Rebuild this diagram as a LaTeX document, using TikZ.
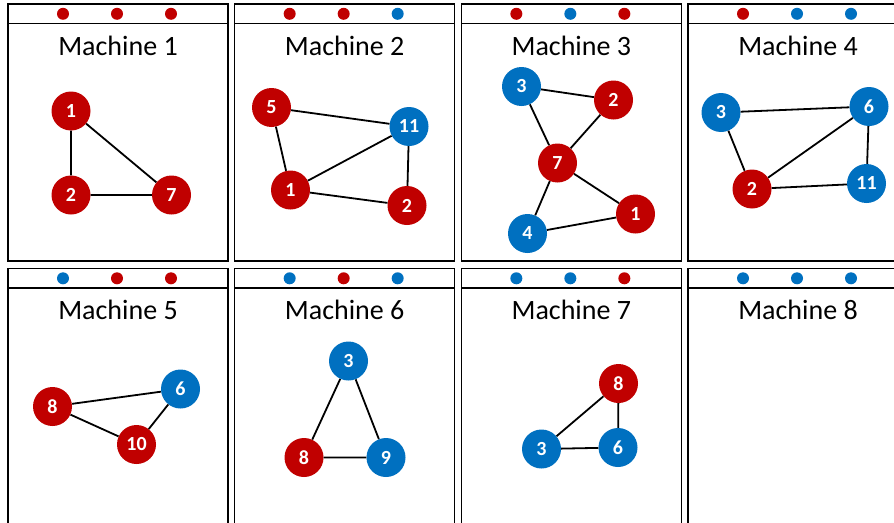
\documentclass[tikz,border=0pt]{standalone}
\usepackage{fontspec}
\setmainfont{Carlito}
\definecolor{nodered}{HTML}{C00000}
\definecolor{nodeblue}{HTML}{0070C0}

\begin{document}
\begin{tikzpicture}[
    x=1pt, y=-1pt,
    frame/.style={draw, line width=1.3pt},
    title/.style={anchor=base, inner sep=0pt, font=\fontsize{28}{30}\selectfont},
    vtx/.style={circle, minimum size=39pt, inner sep=0pt, text=white,
                font=\bfseries\fontsize{20}{20}\selectfont},
    rv/.style={vtx, fill=nodered},
    bv/.style={vtx, fill=nodeblue},
    edge/.style={line width=1.8pt},
]
\useasboundingbox (0,0) rectangle (894,522);
\clip (0,0) rectangle (894,522);

% Machine frames, tag strips and titles
\foreach \m/\c/\r/\da/\db/\dc in {
    1/0/0/nodered/nodered/nodered, 2/1/0/nodered/nodered/nodeblue,
    3/2/0/nodered/nodeblue/nodered, 4/3/0/nodered/nodeblue/nodeblue,
    5/0/1/nodeblue/nodered/nodered, 6/1/1/nodeblue/nodered/nodeblue,
    7/2/1/nodeblue/nodeblue/nodered, 8/3/1/nodeblue/nodeblue/nodeblue} {
  \pgfmathsetmacro{\xl}{8+226.67*\c}
  \pgfmathsetmacro{\yt}{4+264.5*\r}
  \draw[frame] (\xl,\yt) rectangle ++(220,19.5);
  \draw[frame] (\xl,\yt+19.5) rectangle ++(220,237.5);
  \fill[\da] (\xl+55,\yt+9.8) circle (6pt);
  \fill[\db] (\xl+109,\yt+9.8) circle (6pt);
  \fill[\dc] (\xl+163,\yt+9.8) circle (6pt);
  \node[title] (title\m) at (\xl+110,\yt+51) {Machine \m};
}

% Machine 1
\node[rv] (m1v1) at (71,111) {1};
\node[rv] (m1v2) at (71,195) {2};
\node[rv] (m1v7) at (171.5,195) {7};
\draw[edge] (m1v1) -- (m1v2) -- (m1v7) -- (m1v1);

% Machine 2
\node[rv] (m2v5) at (271.5,107.5) {5};
\node[bv] (m2v11) at (409,126.5) {11};
\node[rv] (m2v1) at (290.5,190) {1};
\node[rv] (m2v2) at (407,205.5) {2};
\draw[edge] (m2v5) -- (m2v11) -- (m2v2) -- (m2v1) -- (m2v5);
\draw[edge] (m2v1) -- (m2v11);

% Machine 3
\node[bv] (m3v3) at (521.5,86.5) {3};
\node[rv] (m3v2) at (613.5,100) {2};
\node[rv] (m3v7) at (557.5,163) {7};
\node[bv] (m3v4) at (527.5,233.5) {4};
\node[rv] (m3v1) at (635.5,214) {1};
\draw[edge] (m3v3) -- (m3v2) -- (m3v7) -- (m3v3);
\draw[edge] (m3v7) -- (m3v4) -- (m3v1) -- (m3v7);

% Machine 4
\node[bv] (m4v3) at (721,112.5) {3};
\node[bv] (m4v6) at (869,106.5) {6};
\node[rv] (m4v2) at (752,189) {2};
\node[bv] (m4v11) at (866.5,183.5) {11};
\draw[edge] (m4v3) -- (m4v6) -- (m4v11) -- (m4v2) -- (m4v3);
\draw[edge] (m4v2) -- (m4v6);

% Machine 5
\node[rv] (m5v8) at (52.5,406.5) {8};
\node[bv] (m5v6) at (180.5,389) {6};
\node[rv] (m5v10) at (136.5,444.5) {10};
\draw[edge] (m5v8) -- (m5v6) -- (m5v10) -- (m5v8);

% Machine 6
\node[bv] (m6v3) at (348.5,361) {3};
\node[rv] (m6v8) at (304,457.5) {8};
\node[bv] (m6v9) at (386,457.5) {9};
\draw[edge] (m6v3) -- (m6v8) -- (m6v9) -- (m6v3);

% Machine 7
\node[rv] (m7v8) at (618.5,383.5) {8};
\node[bv] (m7v3) at (541.5,449) {3};
\node[bv] (m7v6) at (618,447.5) {6};
\draw[edge] (m7v8) -- (m7v3) -- (m7v6) -- (m7v8);

\end{tikzpicture}
\end{document}
